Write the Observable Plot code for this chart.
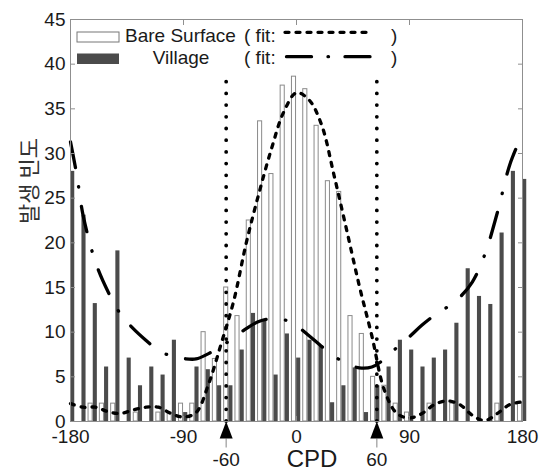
<!DOCTYPE html>
<html><head><meta charset="utf-8">
<script src="https://cdn.jsdelivr.net/npm/d3@7"></script>
<script src="https://cdn.jsdelivr.net/npm/@observablehq/plot@0.6"></script>
<style>
body{margin:0;background:#fff;}
#chart{width:545px;height:472px;}
</style></head><body><div id="chart"></div>
<script>
// ---- data ----
const binCenters = [-180,-171,-162,-153,-144,-135,-126,-117,-108,-99,-90,-81,-72,-63,-54,-45,-36,-27,-18,-9,0,9,18,27,36,45,54,63,72,81,90,99,108,117,126,135,144,153,162,171,180];
const bareSurface = [0,0,2,2,2,0,1,0,1,1,2,2,10,7,15,11.8,22.5,33.6,27.7,37.6,38.6,37.2,33.1,26.9,25.7,11.8,9.8,5,4,2,1,0,2,0,2,0,0,0,2,0,2];
const village = [28,23.1,13.2,6.1,19.1,7.1,4,6.1,5.2,9.1,1,6.1,5.8,4,4,8,12.1,11.3,5.2,9.8,7.1,9.1,8.5,2.1,4,6,1,4,6.1,9.1,8,6.1,7.1,8,11,17.1,14,13.1,21.1,28,27.1];
const bareFitAngle = [-180,-170,-160,-150,-140,-130,-120,-110,-100,-90,-80,-70,-60,-50,-40,-30,-20,-10,0,10,20,30,40,50,60,70,80,90,100,110,120,130,140,150,160,170,180];
const bareFitValue = [2.0,1.6,1.6,1.1,0.9,1.3,1.6,1.6,0.9,0.5,1.0,4.2,8.7,13.5,20.0,25.5,30.5,34.7,36.8,36.0,33.2,27.5,21.4,15.2,9.6,3.5,0.9,0.4,0.9,1.9,2.3,1.9,0.7,0.1,0.9,1.9,2.2];
const villageFitAngle = [-180,-175,-170,-160,-150,-140,-130,-120,-110,-100,-90,-80,-70,-60,-50,-40,-30,-20,-10,0,10,20,30,40,50,60,70,80,90,100,110,120,130,140,150,160,170,180];
const villageFitValue = [31.3,27.6,23.1,17.8,14.5,12.0,10.4,9.1,7.95,7.35,7.05,7.0,7.6,8.4,9.4,10.4,11.2,11.5,11.4,10.7,9.6,8.4,7.3,6.5,6.0,6.1,7.0,8.3,9.5,10.8,11.9,12.8,13.9,15.6,18.7,23.4,28.8,32.2];
const xTicks = [-180,-90,0,90,180];
const yTicks = [0,5,10,15,20,25,30,35,40,45];
const markerAngles = [-60, 60];
const markerLabels = ["-60", "60"];
const markerTop = 38.5;
const seriesNames = ["Bare Surface", "Village"];
const xLabel = "CPD";
const yLabel = "발생 빈도";

// ---- build tables ----
const bars = binCenters.map((c, i) => ({c, bare: bareSurface[i], village: village[i]}));
const halfBin = (binCenters[1] - binCenters[0]) / 2;
const bareFit = bareFitAngle.map((a, i) => ({a, v: bareFitValue[i]}));
const villageFit = villageFitAngle.map((a, i) => ({a, v: villageFitValue[i]}));

const frameGray = "#8f8f8f";
const darkFill = "#4b4b4b";
const dashBare = "4,7";
const dashVillage = "26,19.5,0.5,19.5";

const triangle = {draw(ctx) { ctx.moveTo(0, 0); ctx.lineTo(-6.5, 17); ctx.lineTo(6.5, 17); ctx.closePath(); }};
const stub = {draw(ctx) { ctx.moveTo(0, 17); ctx.lineTo(0, 26); }};

const plot = Plot.plot({
  width: 545, height: 472,
  marginLeft: 70, marginRight: 23, marginTop: 19, marginBottom: 51,
  style: {fontFamily: "'Liberation Sans', Arial, sans-serif", fontSize: "19px", color: "#1a1a1a", background: "white", overflow: "visible"},
  x: {domain: [-180, 180]},
  y: {domain: [0, 45]},
  marks: [
    Plot.rectY(bars.filter(d => d.bare > 0), {x1: d => d.c - halfBin, x2: d => d.c + halfBin, y: "bare", insetLeft: 1.1, insetRight: 6.1, fill: "white", stroke: "#8a8a8a", strokeWidth: 1}),
    Plot.rectY(bars.filter(d => d.village > 0), {x1: d => d.c - halfBin, x2: d => d.c + halfBin, y: "village", insetLeft: 5.8, insetRight: 1.4, fill: darkFill}),
    Plot.ruleX(markerAngles, {x: d => d, y1: 0, y2: markerTop, dx: 5, stroke: "black", strokeWidth: 3.8, strokeDasharray: "0,11.7", strokeLinecap: "round"}),
    Plot.line(bareFit, {x: "a", y: "v", curve: "catmull-rom", stroke: "black", strokeWidth: 3.3, strokeDasharray: dashBare, strokeLinecap: "round"}),
    Plot.line(villageFit, {x: "a", y: "v", curve: "catmull-rom", stroke: "black", strokeWidth: 3.3, strokeDasharray: dashVillage, strokeLinecap: "round"}),
    Plot.frame({stroke: frameGray}),
    Plot.axisY({ticks: yTicks, tickSize: -5, tickPadding: 10, stroke: frameGray, fill: "#1a1a1a", label: null, tickFormat: d => String(d)}),
    Plot.axisY({anchor: "right", ticks: yTicks, tickSize: -5, stroke: frameGray, label: null, tickFormat: () => ""}),
    Plot.axisX({ticks: xTicks, tickSize: -5, tickPadding: 13, stroke: frameGray, fill: "#1a1a1a", label: null, tickFormat: d => String(d)}),
    Plot.axisX({anchor: "top", ticks: xTicks, tickSize: -5, stroke: frameGray, label: null, tickFormat: () => ""}),
    Plot.dot(markerAngles, {x: d => d, y: 0, dx: 5, symbol: stub, stroke: "#999", fill: "none", strokeWidth: 1.2}),
    Plot.dot(markerAngles, {x: d => d, y: 0, dx: 5, symbol: triangle, fill: "black", stroke: "none"}),
    Plot.text(markerAngles, {x: d => d, y: 0, dx: 5, dy: 31, text: (d, i) => markerLabels[i], lineAnchor: "top", fontSize: 19, fill: "#1a1a1a"})
  ]
});

document.getElementById("chart").appendChild(plot);

// ---- legend, axis titles (annotation text) ----
const svg = d3.select(plot);
const font = "'Liberation Sans', Arial, sans-serif";
const lg = svg.append("g").attr("font-family", font).attr("font-size", 19).attr("fill", "#1a1a1a").attr("text-anchor", "start");
lg.append("rect").attr("x", 77).attr("y", 32).attr("width", 42).attr("height", 10).attr("fill", "white").attr("stroke", "#777");
lg.append("rect").attr("x", 77).attr("y", 53.5).attr("width", 42).attr("height", 10.5).attr("fill", darkFill);
lg.append("text").attr("x", 125).attr("y", 41.5).text(seriesNames[0]);
lg.append("text").attr("x", 181).attr("y", 63.5).attr("text-anchor", "middle").text(seriesNames[1]);
lg.append("text").attr("x", 244).attr("y", 41.5).text("( fit:");
lg.append("text").attr("x", 244).attr("y", 63.5).text("( fit:");
lg.append("line").attr("x1", 285).attr("x2", 372).attr("y1", 32.3).attr("y2", 32.3).attr("stroke", "black").attr("stroke-width", 3.3).attr("stroke-dasharray", dashBare).attr("stroke-linecap", "round");
lg.append("line").attr("x1", 286.5).attr("x2", 372).attr("y1", 56.7).attr("y2", 56.7).attr("stroke", "black").attr("stroke-width", 3.3).attr("stroke-dasharray", "25,16.5,0.5,16.5").attr("stroke-linecap", "round");
lg.append("text").attr("x", 391).attr("y", 41.5).text(")");
lg.append("text").attr("x", 391).attr("y", 63.5).text(")");

svg.append("text").attr("x", 312).attr("y", 467).attr("text-anchor", "middle")
  .attr("font-family", font).attr("font-size", 24).attr("fill", "#1a1a1a").text(xLabel);
svg.append("text").attr("transform", "translate(37,181) rotate(-90)").attr("text-anchor", "middle")
  .attr("font-family", "'Noto Sans CJK KR', sans-serif").attr("font-size", 22).attr("fill", "#333").text(yLabel);
</script>
</body></html>
